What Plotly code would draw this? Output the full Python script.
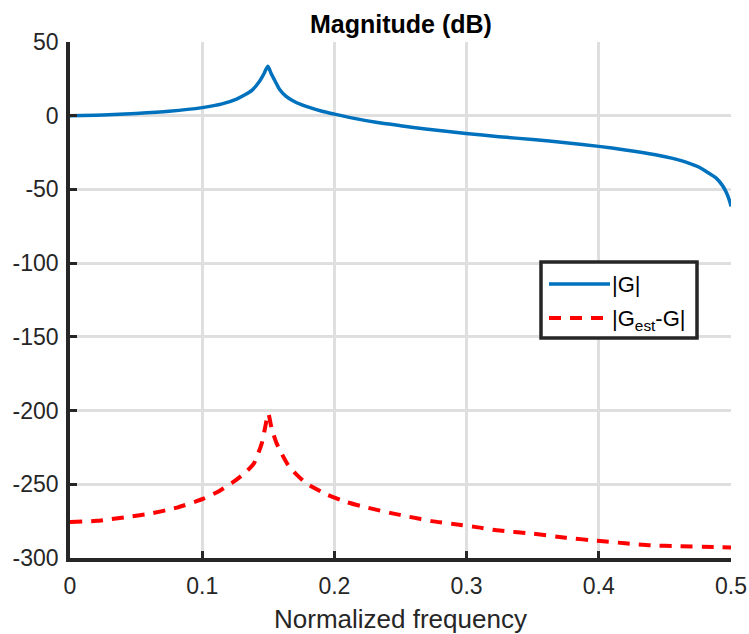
import plotly.graph_objects as go

# ---- data ----
freq_g = [0.0, 0.025, 0.05, 0.075, 0.10, 0.115, 0.126, 0.133, 0.138, 0.1435, 0.1455, 0.147, 0.1497,
          0.152, 0.1535, 0.155, 0.157, 0.1586, 0.163, 0.1686, 0.175, 0.181, 0.19, 0.20, 0.215, 0.2315,
          0.25, 0.269, 0.2995, 0.3245, 0.35, 0.375, 0.40, 0.42, 0.4428, 0.455, 0.468, 0.476, 0.483,
          0.489, 0.4932, 0.4965, 0.499, 0.5]
mag_g = [0.0, 0.4, 1.5, 3.0, 5.5, 8.0, 11.3, 14.5, 17.5, 23.5, 26.5, 29.0, 33.5,
         29.0, 26.3, 23.7, 20.3, 17.8, 13.5, 10.2, 7.5, 5.6, 3.2, 1.1, -1.8, -4.5,
         -6.8, -9.0, -12.0, -14.2, -16.2, -18.3, -20.8, -23.2, -26.5, -28.8, -32.1, -35.0, -38.9,
         -42.5, -46.9, -52.0, -58.0, -61.5]

freq_e = [0.0, 0.02, 0.043, 0.06, 0.081, 0.101, 0.113, 0.1236, 0.132, 0.139, 0.145, 0.1475,
          0.1500, 0.1525, 0.1564, 0.165, 0.172, 0.179, 0.194, 0.209, 0.2257, 0.242, 0.257,
          0.2736, 0.29, 0.3063, 0.3228, 0.35, 0.375, 0.401, 0.42, 0.439, 0.46, 0.487, 0.5]
mag_e = [-275.6, -274.8, -272.2, -270.0, -265.8, -259.7, -254.5, -248.4, -242.5, -236.0, -222.4, -212.0,
         -202.0, -212.0, -222.4, -237.0, -244.0, -249.5, -256.8, -262.0, -266.0, -269.4, -272.1,
         -275.0, -277.0, -278.9, -281.2, -283.5, -286.2, -288.5, -290.0, -291.4, -292.0, -292.5, -292.8]

x_ticks = [0, 0.1, 0.2, 0.3, 0.4, 0.5]
x_tick_labels = ["0", "0.1", "0.2", "0.3", "0.4", "0.5"]
y_ticks = [50, 0, -50, -100, -150, -200, -250, -300]
y_tick_labels = ["50", "0", "-50", "-100", "-150", "-200", "-250", "-300"]

legend_names = ["|G|", "|G<sub>est</sub>-G|"]
title_text = "Magnitude (dB)"
xlabel_text = "Normalized frequency"

BLUE = "#0072BD"
RED = "#FF0000"
FONT = "Liberation Sans, Arial, Helvetica, sans-serif"
W, H = 749, 634
L, R, T, B = 70, 18, 42, 76
PW, PH = W - L - R, H - T - B


def px2x(px):
    return (px - L) / PW


def px2y(py):
    return (H - B - py) / PH


fig = go.Figure()
fig.add_trace(go.Scatter(x=freq_g, y=mag_g, mode="lines", name=legend_names[0],
                         line=dict(color=BLUE, width=3.5, shape="spline", smoothing=0.6),
                         showlegend=False))
fig.add_trace(go.Scatter(x=freq_e, y=mag_e, mode="lines", name=legend_names[1],
                         line=dict(color=RED, width=4, dash="12px,9px", shape="spline",
                                   smoothing=0.6),
                         showlegend=False))

axis_common = dict(
    showgrid=True, gridcolor="#dfdfdf", gridwidth=3,
    showline=True, linecolor="#262626", linewidth=3.5,
    ticks="inside", ticklen=7, tickwidth=3, tickcolor="#262626",
    zeroline=False, mirror=False, automargin=False,
    tickfont=dict(family=FONT, size=23, color="#262626"),
)

fig.update_xaxes(range=[0, 0.5], tickvals=x_ticks, ticktext=x_tick_labels,
                 ticklabelstandoff=5, **axis_common)
fig.update_yaxes(range=[-300, 50], tickvals=y_ticks, ticktext=y_tick_labels,
                 ticklabelstandoff=3, **axis_common)

# legend drawn as box + samples + labels
lx0, ly0, lx1, ly1 = 541, 262, 697, 338
shapes = [
    dict(type="rect", xref="paper", yref="paper", x0=px2x(lx0), x1=px2x(lx1),
         y0=px2y(ly1), y1=px2y(ly0), line=dict(color="#262626", width=3.5),
         fillcolor="white", layer="above"),
    dict(type="line", xref="paper", yref="paper", x0=px2x(549), x1=px2x(610),
         y0=px2y(284), y1=px2y(284), line=dict(color=BLUE, width=3.5), layer="above"),
    dict(type="line", xref="paper", yref="paper", x0=px2x(549), x1=px2x(610),
         y0=px2y(318), y1=px2y(318), line=dict(color=RED, width=4, dash="12px,9px"),
         layer="above"),
]
annotations = [
    dict(text=legend_names[0], xref="paper", yref="paper", x=px2x(610), y=px2y(284),
         xanchor="left", yanchor="middle", showarrow=False,
         font=dict(family=FONT, size=22, color="black")),
    dict(text=legend_names[1], xref="paper", yref="paper", x=px2x(610), y=px2y(320),
         xanchor="left", yanchor="middle", showarrow=False,
         font=dict(family=FONT, size=22, color="black")),
    dict(text=xlabel_text, xref="paper", yref="paper", x=px2x(400), y=px2y(619),
         xanchor="center", yanchor="middle", showarrow=False,
         font=dict(family=FONT, size=26, color="#262626")),
]

fig.update_layout(
    width=W, height=H,
    margin=dict(l=L, r=R, t=T, b=B),
    paper_bgcolor="white", plot_bgcolor="white",
    title=dict(text="<b>" + title_text + "</b>", x=401 / W,
               xanchor="center", y=1 - 24 / H, yanchor="middle", yref="container",
               font=dict(family=FONT, size=25, color="black")),
    shapes=shapes, annotations=annotations,
    showlegend=False,
)

fig.write_html("out.html")
